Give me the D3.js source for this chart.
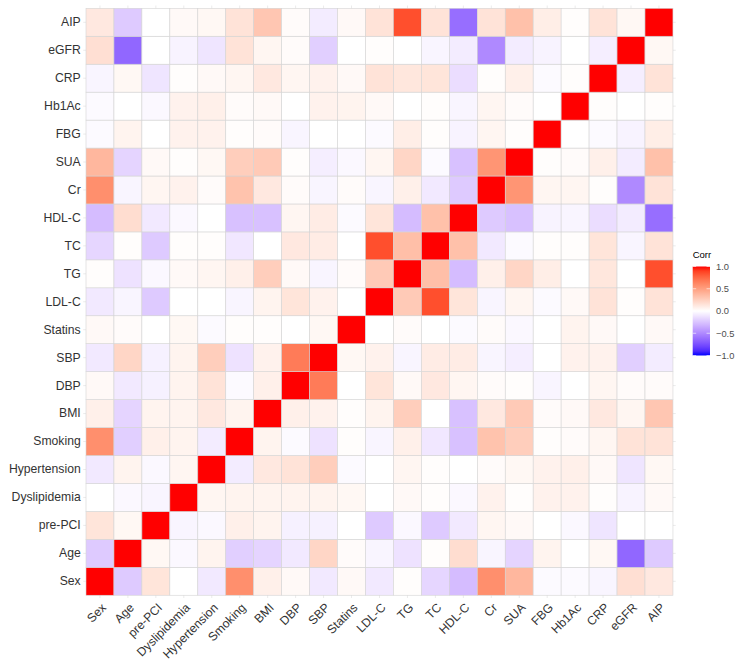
<!DOCTYPE html>
<html>
<head>
<meta charset="utf-8">
<script src="https://cdn.jsdelivr.net/npm/d3@7"></script>
<style>
  body { margin: 0; background: #ffffff; }
  svg { display: block; font-family: "Liberation Sans", Arial, sans-serif; }
</style>
</head>
<body>
<svg id="chart" width="744" height="667"></svg>
<script>
// ---- Data ----
const variables = ["Sex", "Age", "pre-PCI", "Dyslipidemia", "Hypertension", "Smoking", "BMI", "DBP", "SBP", "Statins",
  "LDL-C", "TG", "TC", "HDL-C", "Cr", "SUA", "FBG", "Hb1Ac", "CRP", "eGFR", "AIP"];

// lower triangle of the correlation matrix: row i holds correlations with variables 0..i-1
const corrAge          = [-0.22];
const corrPrePCI       = [0.14, 0.04];
const corrDyslipidemia = [0.00, -0.03, -0.04];
const corrHypertension = [-0.09, 0.06, -0.03, 0.05];
const corrSmoking      = [0.58, -0.20, 0.08, 0.06, -0.08];
const corrBMI          = [0.08, -0.18, 0.06, 0.06, 0.12, 0.06];
const corrDBP          = [0.03, -0.09, -0.06, 0.06, 0.15, -0.02, 0.08];
const corrSBP          = [-0.09, 0.22, -0.06, 0.06, 0.26, -0.12, 0.07, 0.67];
const corrStatins      = [0.03, 0.02, 0.00, 0.04, -0.02, 0.01, 0.01, 0.00, 0.04];
const corrLDLC         = [-0.09, -0.04, -0.22, 0.00, 0.00, -0.04, 0.06, 0.14, 0.07, 0.00];
const corrTG           = [0.01, -0.12, -0.03, 0.03, 0.05, 0.08, 0.26, 0.03, -0.04, 0.02, 0.28];
const corrTC           = [-0.17, 0.01, -0.22, 0.01, 0.01, -0.10, 0.00, 0.12, 0.10, 0.00, 0.85, 0.34];
const corrHDLC         = [-0.28, 0.18, -0.09, -0.03, 0.00, -0.26, -0.26, 0.05, 0.10, -0.02, 0.14, -0.28, 0.33];
const corrCr           = [0.58, -0.04, 0.05, 0.07, 0.02, 0.32, 0.12, 0.02, -0.04, 0.02, -0.04, 0.08, -0.09, -0.22];
const corrSUA          = [0.38, -0.18, 0.03, 0.01, 0.04, 0.26, 0.28, 0.01, -0.07, -0.03, 0.05, 0.22, -0.02, -0.26, 0.55];
const corrFBG          = [-0.02, 0.06, 0.00, 0.07, 0.07, 0.01, 0.02, -0.04, 0.00, 0.00, -0.02, 0.09, 0.01, -0.05, 0.05, 0.01];
const corrHb1Ac        = [-0.02, 0.00, -0.03, 0.07, 0.08, 0.02, 0.03, 0.00, 0.07, 0.06, 0.03, 0.00, 0.01, -0.04, 0.05, 0.02, 0.00];
const corrCRP          = [-0.04, 0.04, -0.11, 0.01, 0.03, 0.05, 0.12, 0.05, 0.07, 0.03, 0.15, 0.13, 0.14, -0.14, 0.01, 0.08, -0.02, 0.01];
const corrEGFR         = [0.17, -0.65, 0.00, -0.05, -0.11, 0.15, 0.05, 0.02, -0.20, 0.00, 0.01, 0.00, -0.04, -0.08, -0.50, -0.08, -0.05, 0.00, -0.07];
const corrAIP          = [0.12, -0.22, 0.00, 0.03, 0.04, 0.15, 0.30, 0.02, -0.08, 0.03, 0.15, 0.85, 0.15, -0.62, 0.15, 0.33, 0.09, 0.01, 0.15, 0.04];

const lowerRows = [[], corrAge, corrPrePCI, corrDyslipidemia, corrHypertension, corrSmoking, corrBMI, corrDBP, corrSBP,
  corrStatins, corrLDLC, corrTG, corrTC, corrHDLC, corrCr, corrSUA, corrFBG, corrHb1Ac, corrCRP, corrEGFR, corrAIP];

const legendTicks = [-1.0, -0.5, 0.0, 0.5, 1.0];
const legendTitle = "Corr";

// build tidy cell list (full symmetric matrix)
const cells = [];
variables.forEach((rv, i) => {
  variables.forEach((cv, j) => {
    let v;
    if (i === j) v = 1;
    else if (j < i) v = lowerRows[i][j];
    else v = lowerRows[j][i];
    cells.push({ row: rv, col: cv, value: v });
  });
});

// ---- Layout ----
const svg = d3.select("#chart");
const cellSize = 27.95;
const panelLeft = 86, panelTop = 8.3;
const nVars = variables.length;
const panelRight = panelLeft + nVars * cellSize, panelBottom = panelTop + nVars * cellSize;
const expand = 0.1 * cellSize;

const x = d3.scaleBand().domain(variables).range([panelLeft, panelRight]).padding(0);
const y = d3.scaleBand().domain(variables).range([panelBottom, panelTop]).padding(0);
const color = d3.scaleLinear().domain([-1, 0, 1]).range(["#0000FF", "#FFFFFF", "#FF0000"]).interpolate(d3.interpolateLab);

// grid lines (theme_minimal)
const grid = svg.append("g");
variables.forEach(v => {
  const cx = x(v) + x.bandwidth() / 2;
  grid.append("line").attr("x1", cx).attr("x2", cx).attr("y1", panelTop - expand).attr("y2", panelBottom + expand)
    .attr("stroke", "#EBEBEB").attr("stroke-width", 1);
  const cy = y(v) + y.bandwidth() / 2;
  grid.append("line").attr("x1", panelLeft - expand).attr("x2", panelRight + expand).attr("y1", cy).attr("y2", cy)
    .attr("stroke", "#EBEBEB").attr("stroke-width", 1);
});

// tiles
svg.append("g").selectAll("rect").data(cells).join("rect")
  .attr("x", d => x(d.col))
  .attr("y", d => y(d.row))
  .attr("width", x.bandwidth())
  .attr("height", y.bandwidth())
  .attr("fill", d => color(d.value))
  .attr("stroke", "#D4D4D4")
  .attr("stroke-width", 0.6);

// y axis
const yAxis = svg.append("g").attr("transform", `translate(${panelLeft - expand - 2.5},0)`)
  .call(d3.axisLeft(y).tickSize(0).tickPadding(0));
yAxis.select(".domain").remove();
yAxis.selectAll("text").attr("font-size", "12.2px").attr("fill", "#333333")
  .attr("font-family", "'Liberation Sans', Arial, sans-serif");

// x axis
const xAxis = svg.append("g").attr("transform", `translate(0,${panelBottom + 6.2})`)
  .call(d3.axisBottom(x).tickSize(0).tickPadding(0));
xAxis.select(".domain").remove();
xAxis.selectAll("text")
  .attr("font-size", "12.2px").attr("fill", "#333333")
  .attr("font-family", "'Liberation Sans', Arial, sans-serif")
  .attr("text-anchor", "end")
  .attr("y", 0).attr("x", 0)
  .attr("dy", "0.8em")
  .attr("transform", "rotate(-45)");

// legend
const lg = svg.append("g");
const barX = 692.7, barW = 17.3, barTop = 266.5, barH = 89;
lg.append("text").attr("x", barX).attr("y", 258.3).text(legendTitle)
  .attr("font-size", "9.5px").attr("fill", "#000000");

const defs = svg.append("defs");
const grad = defs.append("linearGradient").attr("id", "corrGrad")
  .attr("x1", 0).attr("x2", 0).attr("y1", 1).attr("y2", 0);
d3.range(0, 1.0001, 0.05).forEach(t => {
  grad.append("stop").attr("offset", t).attr("stop-color", color(-1 + 2 * t));
});
lg.append("rect").attr("x", barX).attr("y", barTop).attr("width", barW).attr("height", barH)
  .attr("fill", "url(#corrGrad)");

const ly = d3.scaleLinear().domain([-1, 1]).range([barTop + barH, barTop]);
legendTicks.forEach(t => {
  const yy = ly(t);
  lg.append("line").attr("x1", barX).attr("x2", barX + barW * 0.2).attr("y1", yy).attr("y2", yy)
    .attr("stroke", "#ffffff").attr("stroke-width", 0.6);
  lg.append("line").attr("x1", barX + barW * 0.8).attr("x2", barX + barW).attr("y1", yy).attr("y2", yy)
    .attr("stroke", "#ffffff").attr("stroke-width", 0.6);
});
const legendAxis = lg.append("g").attr("transform", `translate(${barX + barW + 6},0)`)
  .call(d3.axisRight(ly).tickValues(legendTicks).tickFormat(d3.format(".1f")).tickSize(0).tickPadding(0));
legendAxis.select(".domain").remove();
legendAxis.selectAll("text").attr("font-size", "9.3px").attr("fill", "#4D4D4D")
  .attr("font-family", "'Liberation Sans', Arial, sans-serif");
</script>
</body>
</html>
